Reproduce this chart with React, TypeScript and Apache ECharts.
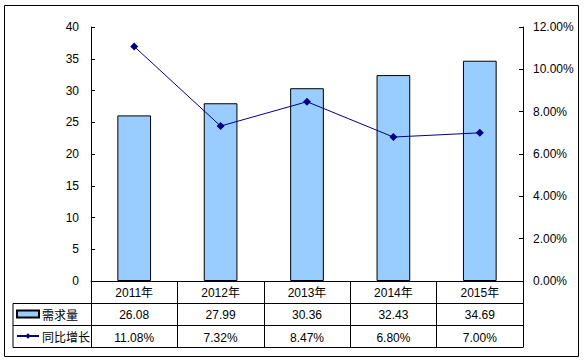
import React, { useEffect, useRef } from "react";
import * as echarts from "echarts";

const years = ["2011年", "2012年", "2013年", "2014年", "2015年"];
const demand = [26.08, 27.99, 30.36, 32.43, 34.69];
const growth = [11.08, 7.32, 8.47, 6.8, 7.0];
const seriesNames = ["需求量", "同比增长"];

const FONT = "'Liberation Sans', Arial, 'Noto Sans CJK SC', sans-serif";

export default function App() {
  const ref = useRef<HTMLDivElement>(null);
  useEffect(() => {
    if (!ref.current) return;
    const chart = echarts.init(ref.current, undefined, { renderer: "svg" });
    const gl = 91, gr = 523, gt = 27, gb = 281;
    const rowH = 22;
    const tableLeft = 13;
    const lineStyle = { stroke: "#000", lineWidth: 1 };
    const hLine = (y: number) => ({
      type: "line",
      shape: { x1: tableLeft, y1: y, x2: gr + 0.5, y2: y },
      style: lineStyle,
      silent: true,
    });
    const legendBase = {
      orient: "horizontal",
      left: 16,
      padding: 0,
      itemWidth: 22,
      itemHeight: 7,
      itemGap: 0,
      textStyle: {
        fontFamily: "'Noto Sans CJK SC', sans-serif",
        fontSize: 12,
        color: "#000",
        lineHeight: 14,
        padding: [0, 0, 0, -2],
      },
    };
    chart.setOption({
      animation: false,
      textStyle: { fontFamily: FONT, fontSize: 12, color: "#000" },
      grid: { left: gl, right: 585 - gr, top: gt, bottom: 363 - gb, containLabel: false },
      legend: [
        { ...legendBase, top: 307, data: [{ name: seriesNames[0], icon: "rect" }] },
        { ...legendBase, top: 329, data: [{ name: seriesNames[1] }] },
      ],
      xAxis: [
        {
          type: "category",
          data: years,
          position: "bottom",
          boundaryGap: true,
          axisLine: { show: true, lineStyle: { color: "#000", width: 1 } },
          axisTick: { show: true, interval: 0, length: 66, lineStyle: { color: "#000" } },
          axisLabel: { interval: 0, margin: 6, color: "#000", fontSize: 12, fontFamily: FONT },
        },
        {
          type: "category",
          data: demand.map((v) => v.toFixed(2)),
          position: "bottom",
          offset: rowH,
          axisLine: { show: false },
          axisTick: { show: false },
          axisLabel: { interval: 0, margin: 6, color: "#000", fontSize: 12, fontFamily: FONT },
        },
        {
          type: "category",
          data: growth.map((v) => v.toFixed(2) + "%"),
          position: "bottom",
          offset: rowH * 2 + 0.5,
          axisLine: { show: false },
          axisTick: { show: false },
          axisLabel: { interval: 0, margin: 6, color: "#000", fontSize: 12, fontFamily: FONT },
        },
      ],
      yAxis: [
        {
          type: "value",
          min: 0,
          max: 40,
          interval: 5,
          position: "left",
          splitLine: { show: false },
          axisLine: { show: true, lineStyle: { color: "#000" } },
          axisTick: { show: true, inside: true, length: 4, lineStyle: { color: "#000" } },
          axisLabel: { margin: 12, color: "#000", fontSize: 12, fontFamily: FONT },
        },
        {
          type: "value",
          min: 0,
          max: 12,
          interval: 2,
          position: "right",
          splitLine: { show: false },
          axisLine: { show: true, lineStyle: { color: "#000" } },
          axisTick: { show: true, inside: true, length: 4, lineStyle: { color: "#000" } },
          axisLabel: {
            margin: 10,
            color: "#000",
            fontSize: 12,
            fontFamily: FONT,
            formatter: (v: number) => v.toFixed(2) + "%",
          },
        },
      ],
      series: [
        {
          name: seriesNames[0],
          type: "bar",
          xAxisIndex: 0,
          yAxisIndex: 0,
          data: demand,
          barWidth: "39%",
          itemStyle: { color: "#99CCFF", borderColor: "#000", borderWidth: 1 },
        },
        {
          name: seriesNames[1],
          type: "line",
          xAxisIndex: 0,
          yAxisIndex: 1,
          data: growth,
          symbol: "diamond",
          symbolSize: 8,
          lineStyle: { color: "#000080", width: 1 },
          itemStyle: { color: "#000080" },
        },
      ],
      graphic: [
        {
          type: "rect",
          shape: { x: 4.5, y: 5.5, width: 574, height: 351 },
          style: { fill: "none", stroke: "#000", lineWidth: 1 },
          silent: true,
        },
        hLine(303.5),
        hLine(325.5),
        hLine(347.5),
        {
          type: "line",
          shape: { x1: tableLeft, y1: 303.5, x2: tableLeft, y2: 347.5 },
          style: lineStyle,
          silent: true,
        },
      ],
    });
    return () => chart.dispose();
  }, []);
  return (
    <div
      ref={ref}
      style={{ position: "absolute", left: 0, top: 0, width: 585, height: 363, background: "#fff" }}
    />
  );
}
